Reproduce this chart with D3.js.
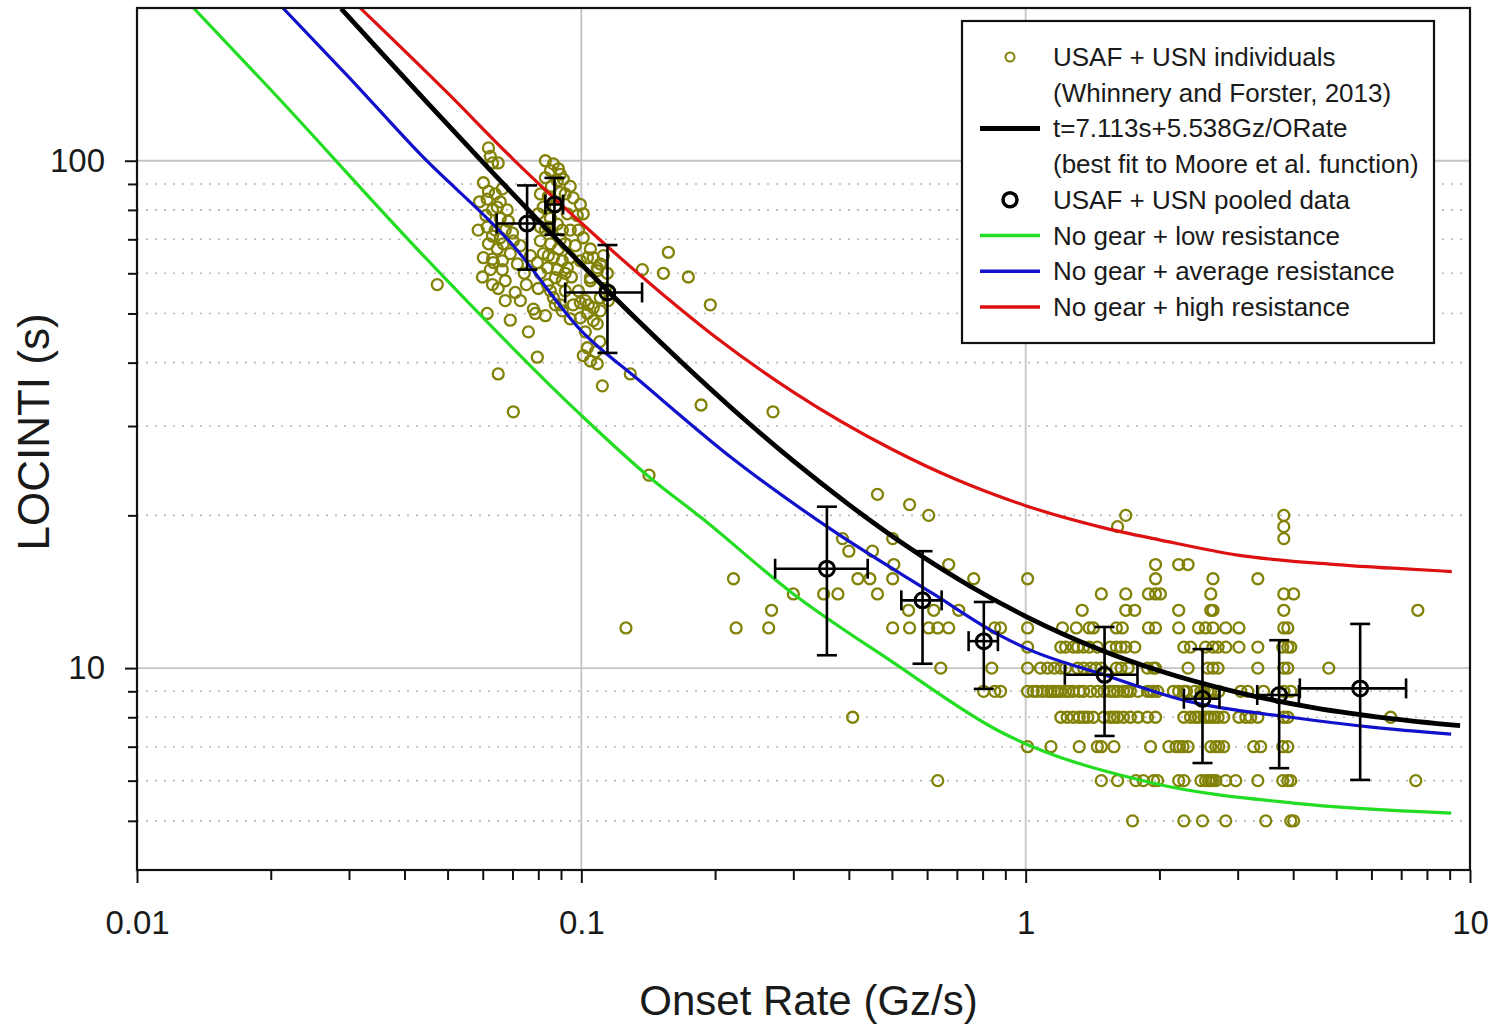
<!DOCTYPE html>
<html>
<head>
<meta charset="utf-8">
<script src="https://cdn.jsdelivr.net/npm/d3@7"></script>
<style>
    body { margin: 0; background: #fff; }
    svg { display: block; font-family: "Liberation Sans", Arial, sans-serif; }
</style>
</head>
<body>
<svg id="chart" width="1494" height="1029"></svg>
<script>
// individual subjects, low onset rate group [rate Gz/s, LOCINTI s]
const lowIndividuals = [
    [0.0474, 57], [0.0618, 106], [0.0624, 102], [0.065, 99], [0.0631, 99], [0.0602, 90.5], [0.0618, 87],
    [0.064, 86], [0.0664, 88], [0.0614, 84], [0.0657, 83], [0.0681, 80], [0.0631, 80], [0.0657, 77],
    [0.0614, 74], [0.0631, 71], [0.0657, 70.5], [0.0618, 68.6], [0.0647, 67], [0.0667, 68.6], [0.0602, 64.4],
    [0.0631, 64], [0.0664, 63.5], [0.0692, 65.6], [0.0703, 69.5], [0.0634, 63], [0.0664, 61], [0.0631, 57],
    [0.065, 56], [0.0614, 50], [0.076, 46], [0.078, 51], [0.0788, 50], [0.08, 56], [0.0874, 52],
    [0.0906, 50.6], [0.0796, 41], [0.065, 38], [0.0703, 32], [0.0674, 53], [0.0692, 48.5], [0.0729, 53],
    [0.0744, 60], [0.0718, 62.6], [0.0586, 73], [0.059, 83], [0.061, 78], [0.064, 73], [0.0674, 73],
    [0.0685, 76], [0.0647, 81], [0.0624, 61], [0.0599, 59], [0.0674, 58], [0.071, 55], [0.0752, 57],
    [0.0768, 65], [0.0729, 68], [0.07, 72],
    [0.0865, 98.6], [0.0852, 95.6], [0.0888, 96.4], [0.083, 92.6], [0.0883, 91.3], [0.0911, 92], [0.0809, 86],
    [0.0843, 85], [0.0821, 81], [0.08, 78.6], [0.0852, 77], [0.0883, 75], [0.0906, 73], [0.083, 73],
    [0.0809, 69.5], [0.0852, 68.6], [0.0888, 67], [0.092, 68.6], [0.0821, 65.6], [0.0865, 64.4], [0.0906, 63.5],
    [0.0796, 63], [0.0839, 61.5], [0.0883, 61], [0.093, 61.5], [0.0944, 89], [0.092, 86], [0.0995, 82],
    [0.101, 78.6], [0.093, 78.6], [0.0944, 73], [0.101, 70.5], [0.1048, 67], [0.1064, 64.4], [0.1086, 61.5],
    [0.0995, 63.5], [0.0944, 64.4], [0.1048, 58], [0.1021, 53], [0.1064, 51.3], [0.0959, 52], [0.092, 60],
    [0.1121, 65], [0.0995, 49], [0.1086, 47.7], [0.0959, 84.5], [0.0897, 94], [0.0979, 78], [0.1032, 64.4],
    [0.1103, 62.6], [0.1144, 60], [0.1132, 56], [0.1086, 60.7], [0.1048, 58.8], [0.1103, 53.7], [0.115, 53],
    [0.1103, 50.6], [0.1037, 52], [0.0897, 52], [0.0865, 53.7], [0.0839, 57], [0.0809, 60], [0.0874, 58.8],
    [0.0906, 58], [0.1032, 42.8], [0.1075, 42], [0.1048, 40.3], [0.1086, 39.8], [0.101, 41.3], [0.1032, 50],
    [0.1064, 48.4], [0.0995, 52.5], [0.1115, 36], [0.1289, 38], [0.157, 66], [0.1372, 61], [0.153, 60],
    [0.1741, 59], [0.1951, 52], [0.083, 100], [0.0856, 89], [0.0897, 86.5], [0.0874, 81], [0.0843, 74],
    [0.0897, 70], [0.0843, 65], [0.0809, 74], [0.0969, 68], [0.0985, 73], [0.095, 59], [0.0985, 55.4],
    [0.092, 55.4], [0.0852, 55.4], [0.083, 49.5], [0.0944, 48.8], [0.1021, 46], [0.110, 44]
];

// individual subjects, medium onset rates
const midIndividuals = [
    [0.186, 33], [0.270, 32], [0.142, 24], [0.464, 22], [0.548, 21], [0.605, 20], [0.387, 18], [0.400, 17],
    [0.452, 17], [0.502, 18], [0.505, 16], [0.502, 15], [0.671, 16], [0.764, 15], [0.220, 15], [0.300, 14],
    [0.351, 14], [0.378, 14], [0.419, 15], [0.446, 15], [0.464, 14], [0.126, 12], [0.223, 12], [0.264, 12],
    [0.268, 13], [0.502, 12], [0.548, 12], [0.605, 12], [0.634, 12], [0.671, 12], [0.545, 13], [0.621, 13],
    [0.707, 13], [0.852, 12], [0.644, 10], [0.839, 10], [0.804, 9], [0.852, 9], [0.408, 8], [0.634, 6],
    [0.878, 12], [0.878, 9]
];

// individual subjects, high onset rates: [LOCINTI s, onset rates]
const highIndividuals = [
    [20, [1.68, 3.81]],
    [19, [1.61, 3.81]],
    [18, [3.81]],
    [16, [1.96, 2.21, 2.32]],
    [15, [1.01, 1.96, 2.64, 3.33]],
    [14, [1.48, 1.68, 1.89, 1.96, 2.01, 2.61, 3.81, 4.01]],
    [13, [1.34, 1.68, 1.76, 2.21, 2.61, 2.64, 3.81, 7.63]],
    [12, [1.01, 1.21, 1.30, 1.39, 1.42, 1.60, 1.65, 1.89, 1.96, 2.21, 2.45, 2.54, 2.64, 2.82, 3.02, 3.81, 3.89]],
    [11, [1.01, 1.20, 1.23, 1.28, 1.31, 1.35, 1.39, 1.45, 1.55, 1.60, 1.64, 1.68, 1.76, 2.27, 2.35, 2.54,
          2.64, 2.71, 2.82, 3.02, 3.33, 3.79, 3.89, 3.95]],
    [10, [1.01, 1.08, 1.12, 1.16, 1.20, 1.23, 1.31, 1.35, 1.40, 1.44, 1.48, 1.60, 1.64, 1.70, 1.88, 1.94,
          1.96, 2.32, 2.57, 2.64, 2.71, 3.33, 3.81, 3.89, 4.81]],
    [9, [1.01, 1.04, 1.06, 1.09, 1.12, 1.14, 1.16, 1.18, 1.20, 1.23, 1.25, 1.28, 1.32, 1.35, 1.40, 1.45,
         1.50, 1.55, 1.58, 1.61, 1.66, 1.69, 1.72, 1.79, 1.88, 1.91, 1.94, 1.98, 2.15, 2.21, 2.27, 2.30,
         2.40, 2.48, 2.52, 2.57, 2.61, 2.65, 2.72, 3.05, 3.16, 3.43, 3.81, 3.95]],
    [8, [1.20, 1.24, 1.28, 1.32, 1.35, 1.38, 1.42, 1.50, 1.55, 1.58, 1.61, 1.66, 1.72, 1.79, 1.88, 1.96,
         2.27, 2.35, 2.41, 2.45, 2.52, 2.57, 2.61, 2.66, 2.71, 2.79, 3.02, 3.13, 3.21, 3.33, 3.81, 3.89, 6.63]],
    [7, [1.01, 1.14, 1.32, 1.45, 1.48, 1.58, 1.91, 2.10, 2.18, 2.22, 2.26, 2.32, 2.61, 2.68, 2.72, 2.79,
         3.26, 3.38, 3.79, 3.89]],
    [6, [1.48, 1.61, 1.77, 1.84, 1.94, 1.98, 2.21, 2.27, 2.48, 2.54, 2.58, 2.61, 2.64, 2.68, 2.82, 2.97,
         3.33, 3.79, 3.89, 3.95, 7.55]],
    [5, [1.74, 2.27, 2.50, 2.82, 3.47, 3.95, 4.01]]
];

// pooled USAF + USN data (mean +/- sd)
const pooledRate = [0.0755, 0.087, 0.1145, 0.357, 0.586, 0.805, 1.505, 2.50, 3.72, 5.66];
const pooledRateSD = [0.011, 0.004, 0.0225, 0.084, 0.061, 0.061, 0.28, 0.23, 0.40, 1.52];
const pooledTime = [75.2, 82, 55.0, 15.7, 13.6, 11.3, 9.7, 8.7, 8.85, 9.12];
const pooledTimeSD = [14.2, 10.5, 13.2, 5.1, 3.4, 2.2, 2.35, 2.2, 2.5, 3.1];

// curves
const fitRate = [0.0288, 0.035, 0.045, 0.06, 0.08, 0.1, 0.13, 0.17, 0.22, 0.3, 0.4, 0.55, 0.75, 1.0, 1.5, 2.0, 3.0, 4.5, 6.5, 9.5];
const fitTime = [199.4, 165.3, 130.2, 99.4, 76.3, 62.5, 49.7, 39.7, 32.3, 25.6, 21.0, 17.2, 14.5, 12.65, 10.8, 9.88, 8.96, 8.34, 7.97, 7.70];
const lowResRate = [0.0134, 0.02, 0.0434, 0.0977, 0.143, 0.186, 0.30, 0.5, 0.875, 1.94, 4.0, 9.07];
const lowResTime = [200, 138, 66, 32.1, 23.7, 19.8, 14.0, 10.3, 7.5, 5.93, 5.42, 5.18];
const avgResRate = [0.0213, 0.03, 0.0434, 0.07, 0.1, 0.1355, 0.22, 0.367, 0.62, 0.875, 1.0, 1.5, 2.31, 3.95, 6.0, 9.07];
const avgResTime = [200, 146, 103, 68.3, 46.2, 36.8, 25.8, 18.7, 14.0, 11.6, 10.95, 9.7, 8.61, 8.0, 7.65, 7.41];
const highResRate = [0.0318, 0.05, 0.07, 0.1, 0.15, 0.2, 0.3, 0.5, 0.7, 1.0, 1.5, 2.0, 3.0, 5.0, 7.0, 9.1];
const highResTime = [200, 136, 101, 75.4, 55.2, 45, 35, 27, 23.5, 20.9, 18.9, 17.9, 16.7, 16.0, 15.7, 15.5];

// axis ticks
const xMajorTicks = [0.01, 0.1, 1, 10];
const xMinorTicks = [2, 3, 4, 5, 6, 7, 8, 9].flatMap((m) => [0.01 * m, 0.1 * m, m]);
const yMajorTicks = [10, 100];
const yMinorTicks = [5, 6, 7, 8, 9, 20, 30, 40, 50, 60, 70, 80, 90];

const legendItems = [
    { type: 'dot', label: 'USAF + USN individuals' },
    { type: 'none', label: '(Whinnery and Forster, 2013)' },
    { type: 'line', color: '#000', width: 5, label: 't=7.113s+5.538Gz/ORate' },
    { type: 'none', label: '(best fit to Moore et al. function)' },
    { type: 'ring', label: 'USAF + USN pooled data' },
    { type: 'line', color: '#22dd22', width: 3.5, label: 'No gear + low resistance' },
    { type: 'line', color: '#1111cc', width: 3.5, label: 'No gear + average resistance' },
    { type: 'line', color: '#dd1111', width: 3.5, label: 'No gear + high resistance' }
];

const plotLeft = 137, plotRight = 1470, plotTop = 8, plotBottom = 870;
const olive = '#828208';

const svg = d3.select('#chart');
const x = d3.scaleLog().domain([0.01, 10]).range([plotLeft, plotRight]);
const y = d3.scaleLog().domain([4, 200]).range([plotBottom, plotTop]);

svg.append('defs').append('clipPath').attr('id', 'plot-clip')
    .append('rect')
    .attr('x', plotLeft).attr('y', plotTop)
    .attr('width', plotRight - plotLeft).attr('height', plotBottom - plotTop);

// gridlines
const grid = svg.append('g').attr('class', 'grid');
grid.selectAll('line.minor-y')
    .data(yMinorTicks)
    .enter().append('line')
    .attr('class', 'minor-y')
    .attr('x1', plotLeft).attr('x2', plotRight)
    .attr('y1', (d) => y(d)).attr('y2', (d) => y(d))
    .attr('stroke', '#b8b8b8')
    .attr('stroke-width', 1.6)
    .attr('stroke-dasharray', '2,7');
grid.selectAll('line.major-y')
    .data(yMajorTicks)
    .enter().append('line')
    .attr('class', 'major-y')
    .attr('x1', plotLeft).attr('x2', plotRight)
    .attr('y1', (d) => y(d)).attr('y2', (d) => y(d))
    .attr('stroke', '#c4c4c4')
    .attr('stroke-width', 1.8);
grid.selectAll('line.major-x')
    .data([0.1, 1])
    .enter().append('line')
    .attr('class', 'major-x')
    .attr('y1', plotTop).attr('y2', plotBottom)
    .attr('x1', (d) => x(d)).attr('x2', (d) => x(d))
    .attr('stroke', '#c4c4c4')
    .attr('stroke-width', 1.8);

// individual points
const individuals = lowIndividuals
    .concat(midIndividuals)
    .concat(highIndividuals.flatMap(([t, rates]) => rates.map((r) => [r, t])));
svg.append('g').attr('class', 'individuals')
    .selectAll('circle')
    .data(individuals)
    .enter().append('circle')
    .attr('cx', (d) => x(d[0]))
    .attr('cy', (d) => y(d[1]))
    .attr('r', 5.5)
    .attr('fill', 'none')
    .attr('stroke', olive)
    .attr('stroke-width', 2.3);

// model curves
const line = d3.line()
    .x((d) => x(d[0]))
    .y((d) => y(d[1]))
    .curve(d3.curveMonotoneX);
const curves = [
    { rate: lowResRate, time: lowResTime, color: '#22dd22', width: 3.2 },
    { rate: avgResRate, time: avgResTime, color: '#1111cc', width: 3.2 },
    { rate: highResRate, time: highResTime, color: '#dd1111', width: 3.2 },
    { rate: fitRate, time: fitTime, color: '#000', width: 4.8 }
];
svg.append('g').attr('class', 'curves')
    .attr('clip-path', 'url(#plot-clip)')
    .selectAll('path')
    .data(curves)
    .enter().append('path')
    .attr('d', (c) => line(c.rate.map((r, i) => [r, c.time[i]])))
    .attr('fill', 'none')
    .attr('stroke', (c) => c.color)
    .attr('stroke-width', (c) => c.width);

// pooled data with error bars
const pooled = pooledRate.map((r, i) => ({
    rate: r, rsd: pooledRateSD[i], t: pooledTime[i], tsd: pooledTimeSD[i]
}));
const cap = 10;
const pooledG = svg.append('g').attr('class', 'pooled')
    .attr('stroke', '#000')
    .attr('stroke-width', 2.6)
    .attr('fill', 'none');
const pg = pooledG.selectAll('g').data(pooled).enter().append('g');
pg.append('line')
    .attr('x1', (d) => x(d.rate)).attr('x2', (d) => x(d.rate))
    .attr('y1', (d) => y(d.t + d.tsd)).attr('y2', (d) => y(d.t - d.tsd));
pg.append('line')
    .attr('x1', (d) => x(d.rate) - cap).attr('x2', (d) => x(d.rate) + cap)
    .attr('y1', (d) => y(d.t + d.tsd)).attr('y2', (d) => y(d.t + d.tsd));
pg.append('line')
    .attr('x1', (d) => x(d.rate) - cap).attr('x2', (d) => x(d.rate) + cap)
    .attr('y1', (d) => y(d.t - d.tsd)).attr('y2', (d) => y(d.t - d.tsd));
pg.append('line')
    .attr('x1', (d) => x(d.rate - d.rsd)).attr('x2', (d) => x(d.rate + d.rsd))
    .attr('y1', (d) => y(d.t)).attr('y2', (d) => y(d.t));
pg.append('line')
    .attr('x1', (d) => x(d.rate - d.rsd)).attr('x2', (d) => x(d.rate - d.rsd))
    .attr('y1', (d) => y(d.t) - cap).attr('y2', (d) => y(d.t) + cap);
pg.append('line')
    .attr('x1', (d) => x(d.rate + d.rsd)).attr('x2', (d) => x(d.rate + d.rsd))
    .attr('y1', (d) => y(d.t) - cap).attr('y2', (d) => y(d.t) + cap);
pg.append('circle')
    .attr('cx', (d) => x(d.rate))
    .attr('cy', (d) => y(d.t))
    .attr('r', 7.5)
    .attr('stroke-width', 3);

// frame
svg.append('rect')
    .attr('x', plotLeft).attr('y', plotTop)
    .attr('width', plotRight - plotLeft).attr('height', plotBottom - plotTop)
    .attr('fill', 'none')
    .attr('stroke', '#111')
    .attr('stroke-width', 2.2);

// axes
const styleAxis = (g) => {
    g.select('.domain').remove();
    g.selectAll('.tick line').attr('stroke', '#111').attr('stroke-width', 2);
    g.selectAll('.tick text').attr('fill', '#1a1a1a').attr('font-size', 33);
};
svg.append('g')
    .attr('transform', 'translate(0,' + plotBottom + ')')
    .call(d3.axisBottom(x).tickValues(xMinorTicks).tickSize(10).tickFormat(''))
    .call(styleAxis);
svg.append('g')
    .attr('transform', 'translate(0,' + plotBottom + ')')
    .call(d3.axisBottom(x).tickValues(xMajorTicks).tickSize(13).tickPadding(28)
        .tickFormat((d) => String(d)))
    .call(styleAxis);
svg.append('g')
    .attr('transform', 'translate(' + plotLeft + ',0)')
    .call(d3.axisLeft(y).tickValues(yMinorTicks).tickSize(9).tickFormat(''))
    .call(styleAxis);
svg.append('g')
    .attr('transform', 'translate(' + plotLeft + ',0)')
    .call(d3.axisLeft(y).tickValues(yMajorTicks).tickSize(12).tickPadding(20)
        .tickFormat(d3.format('d')))
    .call(styleAxis);

// axis titles
svg.append('text')
    .attr('x', (plotLeft + plotRight) / 2 + 5)
    .attr('y', 1015)
    .attr('text-anchor', 'middle')
    .attr('font-size', 42)
    .attr('fill', '#1a1a1a')
    .text('Onset Rate (Gz/s)');
svg.append('text')
    .attr('transform', 'translate(49,432) rotate(-90)')
    .attr('text-anchor', 'middle')
    .attr('font-size', 44)
    .attr('fill', '#1a1a1a')
    .text('LOCINTI (s)');

// legend
const legend = svg.append('g').attr('class', 'legend');
legend.append('rect')
    .attr('x', 962).attr('y', 21)
    .attr('width', 472).attr('height', 322)
    .attr('fill', '#fff')
    .attr('stroke', '#111')
    .attr('stroke-width', 2.2);
const rowY = (i) => 57 + i * 35.7;
const rows = legend.selectAll('g.row')
    .data(legendItems)
    .enter().append('g')
    .attr('class', 'row')
    .attr('transform', (d, i) => 'translate(0,' + rowY(i) + ')');
rows.filter((d) => d.type === 'dot').append('circle')
    .attr('cx', 1010).attr('cy', 0).attr('r', 4.5)
    .attr('fill', 'none').attr('stroke', olive).attr('stroke-width', 2);
rows.filter((d) => d.type === 'ring').append('circle')
    .attr('cx', 1010).attr('cy', 0).attr('r', 7)
    .attr('fill', 'none').attr('stroke', '#000').attr('stroke-width', 3.5);
rows.filter((d) => d.type === 'line').append('line')
    .attr('x1', 980).attr('x2', 1040)
    .attr('y1', 0).attr('y2', 0)
    .attr('stroke', (d) => d.color)
    .attr('stroke-width', (d) => d.width);
rows.append('text')
    .attr('x', 1053)
    .attr('y', 9)
    .attr('font-size', 26)
    .attr('fill', '#1a1a1a')
    .text((d) => d.label);
</script>
</body>
</html>
